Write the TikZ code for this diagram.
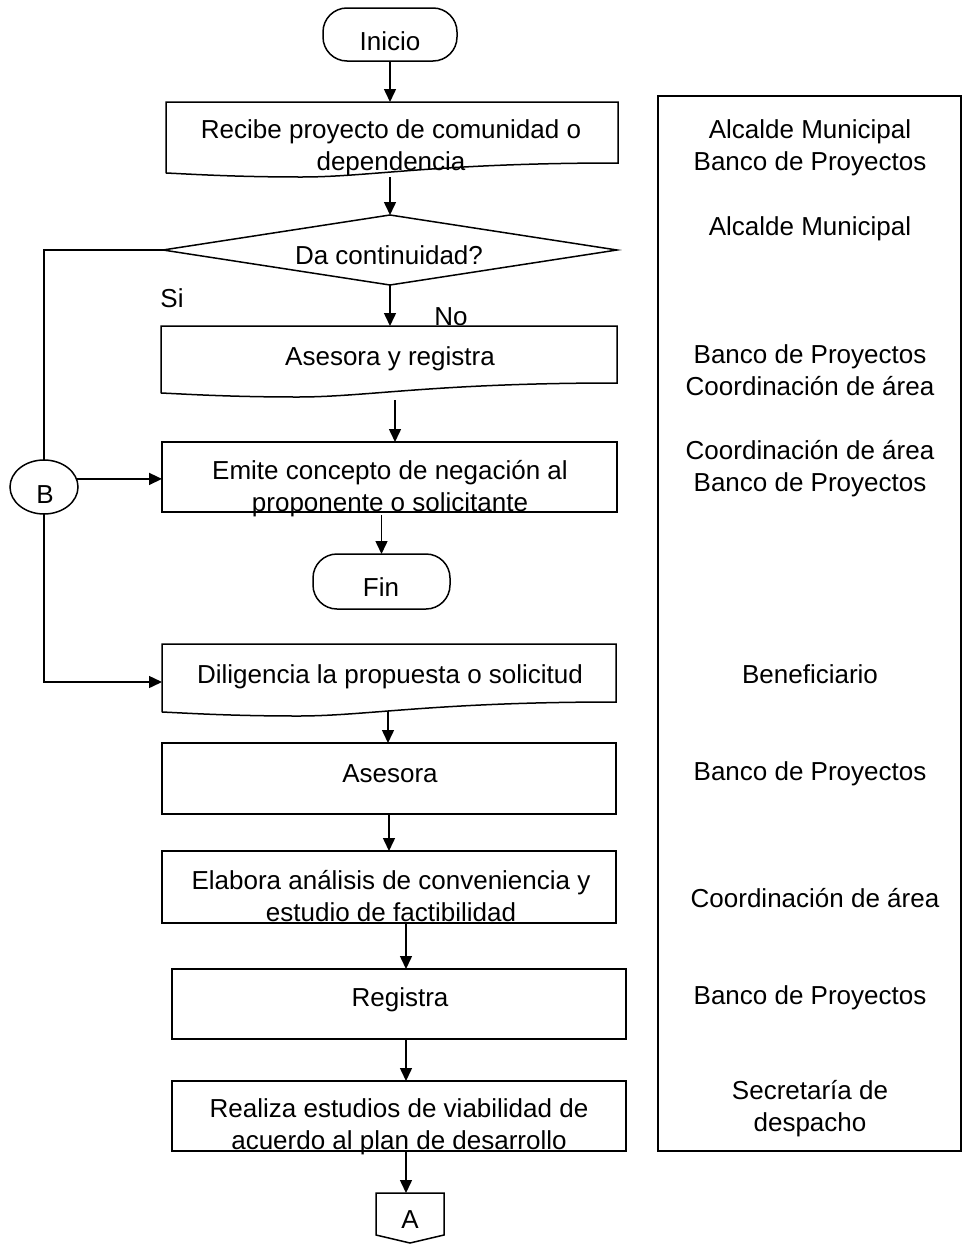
\documentclass[tikz,border=0pt]{standalone}
\usepackage{fontspec}
\setmainfont{Liberation Sans}
\usetikzlibrary{arrows.meta,shapes.geometric}
\newcommand\docshape[4]{% left top right bottom-right
  \draw (#1,#4+10) -- (#1,#2) -- (#3,#2) -- (#3,#4)
    .. controls ({#1+0.6*(#3-#1)},#4) and ({#1+0.45*(#3-#1)},#4+14) .. ({#1+0.3*(#3-#1)},#4+14)
    .. controls ({#1+0.15*(#3-#1)},#4+14) and ({#1+0.05*(#3-#1)},#4+11) .. (#1,#4+10);}
\begin{document}
\begin{tikzpicture}[x=1pt,y=-1pt,line width=1.5pt,
  every node/.style={inner sep=0pt,outer sep=0pt},
  txt/.style={font=\fontsize{26}{32}\selectfont,anchor=base,align=center},
  area/.style={rectangle,minimum width=#1},
  box/.style={draw,rectangle,minimum width=#1},
  term/.style={draw,rectangle,rounded corners=24pt,minimum width=#1},
  arr/.style={-{Triangle[length=13pt,width=12pt]}}]
\useasboundingbox (0,0) rectangle (967,1245);

% shapes
\node[term=134,minimum height=53] (ini) at (390,34.5) {};
\node[area=452,minimum height=61] (recibe) at (392,132.5) {};
\docshape{166}{102}{618}{163}
\node[draw,diamond,minimum width=454,minimum height=70] (dec) at (390,250) {};
\node[area=456,minimum height=57] (asr) at (389,354.5) {};
\docshape{161}{326}{617}{383}
\node[box=455,minimum height=70] (emi) at (389.5,477) {};
\node[draw,ellipse,minimum width=68,minimum height=54] (B) at (44,487) {};
\node[term=137,minimum height=55] (fin) at (381.5,581.5) {};
\node[area=454,minimum height=58] (dil) at (389,673) {};
\docshape{162}{644}{616}{702}
\node[box=454,minimum height=71] (ase) at (389,778.5) {};
\node[box=454,minimum height=72] (ela) at (389,887) {};
\node[box=454,minimum height=70] (reg) at (399,1004) {};
\node[box=454,minimum height=70] (rea) at (399,1116) {};
\node[area=68,minimum height=50] (offA) at (410,1218) {};
\draw (offA.north west) -- (offA.north east) -- ([yshift=8pt]offA.south east)
  -- (offA.south) -- ([yshift=8pt]offA.south west) -- cycle;
\node[box=303,minimum height=1055] (resp) at (809.5,623.5) {};

% connector helpers
\coordinate (recout) at (390,177);
\coordinate (asrout) at (395,400);
\coordinate (dilout) at (388,711);
\coordinate (dilin) at (162,682);
\coordinate (col) at (406,0);

% connectors
\draw[arr] (ini.south) -- (ini.south |- recibe.north);
\draw[arr] (recout) -- (dec.north);
\draw[arr] (dec.south) -- (dec.south |- asr.north);
\draw[arr] (asrout) -- (asrout |- emi.north);
\draw (dec.west) -| (B.north);
\draw[arr] (B.south) |- (dilin);
\draw[arr] (B.14) -- (B.14 -| emi.west);
\draw[arr] ([yshift=-3pt]fin.north |- emi.south) -- (fin.north);
\draw[arr] (dilout) -- (dilout |- ase.north);
\draw[arr] (ase.south) -- (ase.south |- ela.north);
\draw[arr] (ela.south -| col) -- (reg.north -| col);
\draw[arr] (reg.south -| col) -- (rea.north -| col);
\draw[arr] (rea.south -| col) -- (offA.north -| col);

% texts (anchor=base of the last line)
\node[txt] (tini) at (390,50) {Inicio};
\node[txt] (trec) at (391,170) {Recibe proyecto de comunidad o\\dependencia};
\node[txt] (tdec) at (389,264) {Da continuidad?};
\node[txt] (tsi) at (172,307) {Si};
\node[txt] (tno) at (451,325) {No};
\node[txt] (tasr) at (390,365) {Asesora y registra};
\node[txt] (temi) at (390,511) {Emite concepto de negación al\\proponente o solicitante};
\node[txt] (tB) at (45,503) {B};
\node[txt] (tfin) at (381,596) {Fin};
\node[txt] (tdil) at (390,683) {Diligencia la propuesta o solicitud};
\node[txt] (tase) at (390,782) {Asesora};
\node[txt] (tela) at (391,921) {Elabora análisis de conveniencia y\\estudio de factibilidad};
\node[txt] (treg) at (400,1006) {Registra};
\node[txt] (trea) at (399,1149) {Realiza estudios de viabilidad de\\acuerdo al plan de desarrollo};
\node[txt] (tA) at (410,1228) {A};

\node[txt] (r1) at (810,170) {Alcalde Municipal\\Banco de Proyectos};
\node[txt] (r2) at (810,235) {Alcalde Municipal};
\node[txt] (r3) at (810,395) {Banco de Proyectos\\Coordinación de área};
\node[txt] (r4) at (810,491) {Coordinación de área\\Banco de Proyectos};
\node[txt] (r5) at (810,683) {Beneficiario};
\node[txt] (r6) at (810,780) {Banco de Proyectos};
\node[txt] (r7) at (815,907) {Coordinación de área};
\node[txt] (r8) at (810,1004) {Banco de Proyectos};
\node[txt] (r9) at (810,1131) {Secretaría de\\despacho};
\end{tikzpicture}
\end{document}
